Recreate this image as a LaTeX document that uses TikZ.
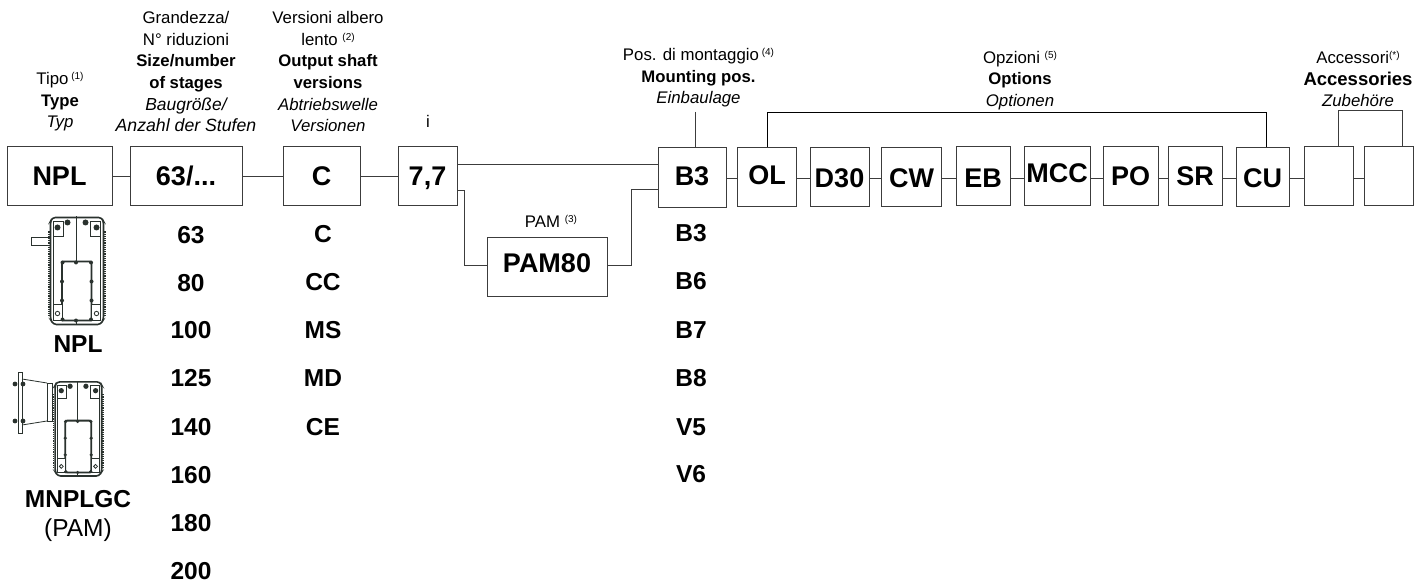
\documentclass[tikz,border=0pt]{standalone}
\usepackage{fontspec}
\setmainfont{Liberation Sans}
\definecolor{ln}{HTML}{3C3C3C}
\definecolor{ic}{HTML}{2A322E}
\newcommand{\sups}[1]{{\fontsize{10}{10}\selectfont\raisebox{5pt}{#1}}}
\newcommand{\bl}[1]{{\fontsize{16.7}{21.6}\selectfont\bfseries #1}}
\newcommand{\itl}[2][16.8]{{\fontsize{#1}{21.6}\selectfont\itshape #2}}
\newcommand{\up}[2]{\raisebox{#1pt}{#2}}
\tikzset{
  x=1pt,y=-1pt,
  bx/.style={draw=ln,line width=0.9pt,rectangle,inner sep=0pt,outer sep=0pt,text height=19.4pt,text depth=0pt,font=\fontsize{27}{27}\selectfont\bfseries},
  lbl/.style={align=center,anchor=south,inner sep=0pt,font=\fontsize{16.8}{21.6}\selectfont},
  val/.style={inner sep=0pt,font=\fontsize{24.5}{24.5}\selectfont\bfseries},
  con/.style={draw=ln,line width=0.9pt},
  ico/.style={draw=ic,line width=0.8pt},
  bolt/.style={fill=ic,draw=none},
  gearbody/.pic={
    \draw[ico,line width=1.6pt,rounded corners=3pt] (-24,1) -- (25,1) -- (27,5) -- (27,103) -- (24,108) -- (-23,108) -- (-26,103) -- (-26,5) -- cycle;
    \draw[ico,line width=0.7pt] (-23,5) -- (-23,103) (24,5) -- (24,103);
    \draw[ico,line width=1.2pt,densely dotted] (-27.5,15) -- (-27.5,100) (28.5,15) -- (28.5,100);
    \draw[ico] (-0.5,0) -- (-0.5,45) (-0.5,104) -- (-0.5,108);
    \draw[ico,line width=1.9pt,rounded corners=2pt] (-14.5,45) rectangle (15,104);
    \draw[ico,fill=white] (-23,5) rectangle (-13,20) (14,5) rectangle (24,20);
    \draw[ico,fill=white] (-23,88) rectangle (-14.5,104) (15,88) rectangle (24,104);
    \foreach \p in {(-9,6),(9,6),(-19,11),(20,11)} \fill[bolt] \p circle (3pt);
    \foreach \p in {(-0.5,46),(-0.5,104),(-14.5,65),(15,65),(-14.5,84),(15,84),(-14,103),(14.5,103),(-14,46),(14.5,46)} \fill[bolt] \p circle (2pt);
    \foreach \p in {(-19,97),(20,97)} \draw[ico] \p circle (2.2pt);
  }
}
\begin{document}
\begin{tikzpicture}
\useasboundingbox (0,0) rectangle (1421,585);
\fill[white] (0,0) rectangle (1421,585);
% boxes
\node[bx,minimum width=105pt,minimum height=59pt] (npl) at (59.5,175.5) {NPL};
\node[bx,minimum width=112pt,minimum height=59pt] (size) at (186,175.5) {63/...};
\node[bx,minimum width=77pt,minimum height=59pt] (ver) at (321.5,175.5) {C};
\node[bx,minimum width=59pt,minimum height=59pt] (ratio) at (427.5,175.5) {7,7};
\node[bx,minimum width=120pt,minimum height=59pt] (pam) at (547,266.5) {\up{4}{PAM80}};
\node[bx,minimum width=68pt,minimum height=60pt] (b3) at (692,177) {\up{1}{B3}};
\node[bx,minimum width=59pt,minimum height=59pt] (ol) at (767,176.5) {\up{1.5}{OL}};
\node[bx,minimum width=59pt,minimum height=59pt] (d30) at (839.5,176.5) {\up{-1.5}{D30}};
\node[bx,minimum width=60pt,minimum height=59pt] (cw) at (911.5,176.5) {\up{-1.5}{CW}};
\node[bx,minimum width=54pt,minimum height=59pt] (eb) at (983,176) {\up{-2}{EB}};
\node[bx,minimum width=66pt,minimum height=59pt] (mcc) at (1057,176) {\up{3}{MCC}};
\node[bx,minimum width=55pt,minimum height=59pt] (po) at (1130.5,176) {PO};
\node[bx,minimum width=54pt,minimum height=59pt] (sr) at (1195,176) {SR};
\node[bx,minimum width=53pt,minimum height=59pt] (cu) at (1262.5,176.5) {\up{-1.5}{CU}};
\node[bx,minimum width=49pt,minimum height=59pt] (a1) at (1328.5,176) {};
\node[bx,minimum width=49pt,minimum height=59pt] (a2) at (1388.5,176) {};
% free ends
\coordinate (mtop) at (695,112);
\coordinate (optl) at (767,112.5);
\coordinate (optr) at (1266,112.5);
\coordinate (accl) at (1338,110);
\coordinate (accr) at (1402,110);
% connectors
\draw[con] (npl.east |- 0,176) -- (size.west |- 0,176);
\draw[con] (size.east |- 0,176) -- (ver.west |- 0,176);
\draw[con] (ver.east |- 0,176) -- (ratio.west |- 0,176);
\draw[con] (ratio.east |- 0,164) -- (b3.west |- 0,164);
\draw[con] (ratio.east |- 0,190) -- (464,190) -- (464,265) -- (pam.west |- 0,265);
\draw[con] (pam.east |- 0,265) -- (631,265) -- (631,189) -- (b3.west |- 0,189);
\draw[con] (b3.east |- 0,178) -- (ol.west |- 0,178);
\draw[con] (ol.east |- 0,178) -- (d30.west |- 0,178);
\draw[con] (d30.east |- 0,178) -- (cw.west |- 0,178);
\draw[con] (cw.east |- 0,178) -- (eb.west |- 0,178);
\draw[con] (eb.east |- 0,178) -- (mcc.west |- 0,178);
\draw[con] (mcc.east |- 0,178) -- (po.west |- 0,178);
\draw[con] (po.east |- 0,178) -- (sr.west |- 0,178);
\draw[con] (sr.east |- 0,178) -- (cu.west |- 0,178);
\draw[con] (cu.east |- 0,178) -- (a1.west |- 0,178);
\draw[con] (a1.east |- 0,178) -- (a2.west |- 0,178);
\draw[con] (mtop) -- (mtop |- b3.north);
\draw[con,draw=black] (ol.north -| optl) -- (optl) -- (optr) -- (optr |- cu.north);
\draw[con] (a1.north -| accl) -- (accl) -- (accr) -- (accr |- a2.north);
% header labels
\node[lbl] (l1) at (60,131.5) {Tipo\,\sups{(1)}\\\bl{Type}\\\itl{Typ}};
\node[lbl] (l2) at (186,132) {Grandezza/\\N° riduzioni\\\bl{Size/number}\\\bl{of stages}\\\itl[17.4]{Baugröße/}\\\itl[17.7]{Anzahl der Stufen}};
\node[lbl] (l3) at (328,132) {Versioni albero\\lento \sups{(2)}\\\bl{Output shaft}\\\bl{versions}\\\itl{Abtriebswelle}\\\itl{Versionen}};
\node[lbl] (l4) at (428,128) {i};
\node[lbl] (l5) at (551,228) {PAM \sups{(3)}};
\node[lbl] (l6) at (698.5,107.5) {Pos. di montaggio\,\sups{(4)}\\\bl{Mounting pos.}\\\itl{Einbaulage}};
\node[lbl] (l7) at (1020,110) {Opzioni \sups{(5)}\\\bl{Options}\\\itl{Optionen}};
\node[lbl] (l8) at (1358,107) {Accessori\sups{(*)}\\{\fontsize{18.5}{21.6}\selectfont\bfseries Accessories}\hspace*{11pt}\\\itl{Zubehöre}};
% value lists
\foreach \n/\t/\y in {a/63/235,b/80/283,c/100/330,d/125/378,e/140/427,f/160/475,g/180/523,h/200/571}
  \node[val] (s\n) at (191,\y) {\t};
\foreach \n/\t/\y in {a/C/234,b/CC/282,c/MS/330,d/MD/378,e/CE/427}
  \node[val] (v\n) at (323,\y) {\t};
\foreach \n/\t/\y in {a/B3/233,b/B6/281,c/B7/330,d/B8/378,e/V5/427,f/V6/474}
  \node[val] (m\n) at (691,\y) {\t};
\node[val] (tnpl) at (78,344) {NPL};
\node[val] (tm) at (78,499) {MNPLGC};
\node[inner sep=0pt,font=\fontsize{24.5}{24.5}\selectfont] (tp) at (78,530) {(PAM)};
% NPL icon
\draw[ico,fill=white] (31,237) rectangle (50,245);
\pic at (76.5,216.5) {gearbody};
% MNPLGC icon
\pic[scale=0.88] at (78,381) {gearbody};
\draw[ico,fill=white] (18,372) rectangle (22,433);
\draw[ico] (22,379) -- (47,383) (22,425) -- (47,421);
\draw[ico] (47,383) rectangle (52,421);
\foreach \p in {(15,384),(23,384),(15,421),(23,421)} \fill[bolt] \p circle (2.4pt);
\end{tikzpicture}
\end{document}
